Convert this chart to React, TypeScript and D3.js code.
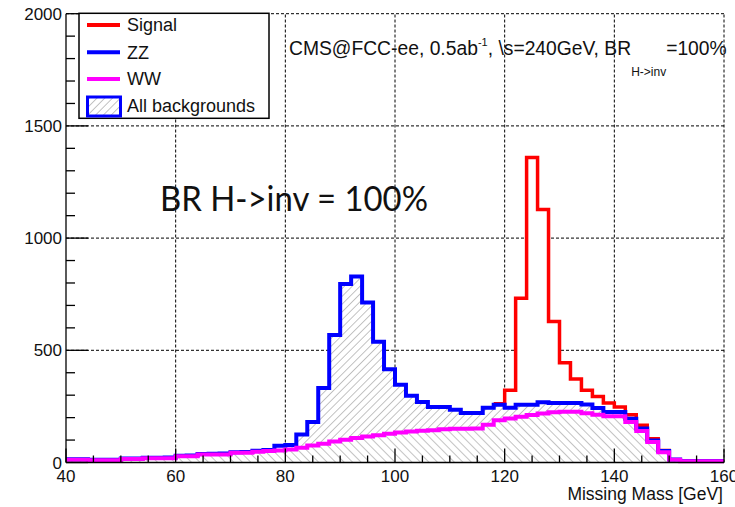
import React from "react";
import * as d3 from "d3";

// ---- data ----
// bin lower edges in GeV (2 GeV bins, 40..160)
const binStarts: number[] = d3.range(40, 160, 2);

// total background (ZZ + WW), blue outline
const allBkg: number[] = [
  15, 14, 12, 12, 12, 18, 18, 21, 21, 22,
  30, 31, 38, 39, 40, 46, 47, 52, 56, 75,
  78, 125, 180, 332, 568, 795, 829, 713, 538, 415,
  347, 298, 270, 247, 247, 235, 221, 221, 244, 257,
  244, 257, 257, 268, 265, 265, 265, 258, 243, 225,
  225, 195, 151, 98, 51, 13, 7, 7, 7, 7,
];

// WW background, magenta
const wwBkg: number[] = [
  12, 12, 10, 10, 10, 16, 16, 19, 19, 19,
  28, 28, 36, 36, 36, 43, 43, 48, 51, 54,
  58, 66, 76, 84, 94, 101, 109, 116, 121, 128,
  134, 138, 141, 144, 148, 150, 150, 151, 168, 188,
  196, 204, 212, 218, 224, 226, 226, 220, 213, 206,
  206, 180, 140, 91, 46, 12, 6, 6, 6, 6,
];

// signal stacked on backgrounds, red (bins 118..148)
const sigStarts: number[] = [118, 120, 122, 124, 126, 128, 130, 132, 134, 136, 138, 140, 142, 144, 146, 148];
const sigStacked: number[] = [262, 322, 732, 1359, 1128, 628, 445, 372, 322, 294, 265, 247, 213, 166, 106, 54];
const sigEnd = { x: 150, v: 13 };

const xTicks: number[] = [40, 60, 80, 100, 120, 140, 160];
const yTicks: number[] = [0, 500, 1000, 1500, 2000];

const legendItems = ["Signal", "ZZ", "WW", "All backgrounds"];

const W = 735;
const H = 507;

export default function App() {
  const x = d3.scaleLinear().domain([40, 160]).range([66, 724]);
  const y = d3.scaleLinear().domain([0, 2000]).range([462.5, 13.7]);

  type P = { x: number; v: number };
  const toPts = (vals: number[]): P[] => {
    const p = vals.map((v, i) => ({ x: binStarts[i], v }));
    p.push({ x: 160, v: vals[vals.length - 1] });
    return p;
  };
  const bkgPts = toPts(allBkg);
  const wwPts = toPts(wwBkg);
  const sigPts: P[] = sigStarts.map((s, i) => ({ x: s, v: sigStacked[i] }));
  sigPts.push(sigEnd);

  const line = d3
    .line<P>()
    .x((d) => x(d.x))
    .y((d) => y(d.v))
    .curve(d3.curveStepAfter);

  const areaBkg = d3
    .area<P>()
    .x((d) => x(d.x))
    .y0(y(0))
    .y1((d) => y(d.v))
    .curve(d3.curveStepAfter);

  const zzBand = d3
    .area<[P, P]>()
    .x((d) => x(d[0].x))
    .y0((d) => y(d[1].v))
    .y1((d) => y(d[0].v))
    .curve(d3.curveStepAfter);
  const pairs: [P, P][] = bkgPts.map((p, i) => [p, wwPts[i]]);

  const sigArea = d3
    .area<P>()
    .x((d) => x(d.x))
    .y0(y(0))
    .y1((d) => y(d.v))
    .curve(d3.curveStepAfter);

  const xMinor = d3.range(45, 160, 5).filter((v) => v % 20 !== 0);
  const yMinor = d3.range(100, 2000, 100).filter((v) => v % 500 !== 0);

  const font = "'Liberation Sans', Arial, sans-serif";

  return (
    <svg
      width={W}
      height={H}
      style={{ position: "absolute", left: 0, top: 0, background: "#fff" }}
      fontFamily={font}
    >
      <defs>
        <pattern id="hatchZZ" width="5.5" height="5.5" patternUnits="userSpaceOnUse" patternTransform="rotate(45)">
          <rect width="5.5" height="5.5" fill="#fff" />
          <line x1="0" y1="0" x2="0" y2="5.5" stroke="#7a7a7a" strokeWidth="0.9" />
        </pattern>
        <pattern id="hatchWW" width="6" height="6" patternUnits="userSpaceOnUse" patternTransform="rotate(-45)">
          <rect width="6" height="6" fill="#fff" />
          <line x1="0" y1="0" x2="0" y2="6" stroke="#7a7a7a" strokeWidth="0.9" />
        </pattern>
      </defs>

      {/* grid */}
      <g stroke="#000" strokeWidth={1} strokeDasharray="3,2">
        {xTicks.filter((t) => t > 40).map((t) => (
          <line key={"gx" + t} x1={x(t)} x2={x(t)} y1={y(0)} y2={y(2000)} />
        ))}
        {yTicks.filter((t) => t > 0).map((t) => (
          <line key={"gy" + t} x1={x(40)} x2={x(160)} y1={y(t)} y2={y(t)} />
        ))}
      </g>

      {/* fills */}
      <path d={sigArea(sigPts) || ""} fill="#fff" />
      <path d={areaBkg(bkgPts) || ""} fill="#fff" />
      <path d={zzBand(pairs) || ""} fill="url(#hatchZZ)" />
      <path d={areaBkg(wwPts) || ""} fill="url(#hatchWW)" />

      {/* lines */}
      <path d={line(sigPts) || ""} fill="none" stroke="#ff0000" strokeWidth={3.5} />
      <path d={line(bkgPts) || ""} fill="none" stroke="#0000ff" strokeWidth={4} />
      <path d={line(wwPts) || ""} fill="none" stroke="#ff00ff" strokeWidth={4} />

      {/* axes */}
      <g stroke="#000" strokeWidth={1.3}>
        <line x1={x(40)} x2={x(40)} y1={y(0)} y2={y(2000)} />
        <line x1={x(40)} x2={x(160)} y1={y(0)} y2={y(0)} />
        {yTicks.map((t) => (
          <line key={"ty" + t} x1={x(40)} x2={x(40) + 22} y1={y(t)} y2={y(t)} />
        ))}
        {yMinor.map((t) => (
          <line key={"tym" + t} x1={x(40)} x2={x(40) + 9} y1={y(t)} y2={y(t)} />
        ))}
        {xTicks.map((t) => (
          <line key={"tx" + t} x1={x(t)} x2={x(t)} y1={y(0)} y2={y(0) - 14} />
        ))}
        {xMinor.map((t) => (
          <line key={"txm" + t} x1={x(t)} x2={x(t)} y1={y(0)} y2={y(0) - 7} />
        ))}
      </g>

      {/* tick labels */}
      <g fontSize={17} fill="#111">
        {yTicks.map((t) => (
          <text key={"ly" + t} x={62} y={y(t)} dy="0.36em" textAnchor="end">
            {t}
          </text>
        ))}
        {xTicks.map((t) => (
          <text key={"lx" + t} x={x(t)} y={481.5} textAnchor="middle">
            {t}
          </text>
        ))}
      </g>
      <text x={723} y={500} fontSize={17.5} textAnchor="end" fill="#111">
        Missing Mass [GeV]
      </text>

      {/* legend */}
      <g>
        <rect x={79} y={13.3} width={190} height={105} fill="#fff" stroke="#000" strokeWidth={1.5} />
        <line x1={87} x2={120} y1={25} y2={25} stroke="#ff0000" strokeWidth={4} />
        <line x1={87} x2={120} y1={52.3} y2={52.3} stroke="#0000ff" strokeWidth={4} />
        <line x1={87} x2={120} y1={79} y2={79} stroke="#ff00ff" strokeWidth={4} />
        <rect x={87.5} y={97} width={33} height={19} fill="url(#hatchZZ)" stroke="#0000ff" strokeWidth={3} />
        {legendItems.map((s, i) => (
          <text key={s} x={127} y={[25, 52.3, 79, 106][i]} dy="0.36em" fontSize={18} fill="#111">
            {s}
          </text>
        ))}
      </g>

      {/* header text */}
      <text x={289} y={55} fontSize={19.3} fill="#111">
        <tspan>CMS@FCC-ee, 0.5ab</tspan>
        <tspan fontSize={11} dy={-9}>-1</tspan>
        <tspan dy={9}>, \s=240GeV, BR</tspan>
        <tspan fontSize={12} dy={21}>H-&gt;inv</tspan>
        <tspan dy={-21}>=100%</tspan>
      </text>

      {/* big label */}
      <text
        x={160}
        y={211}
        fontSize={34}
        fontFamily="Lato, 'Open Sans', sans-serif"
        fill="#111"
        textLength={268}
        lengthAdjust="spacingAndGlyphs"
      >
        BR H-&gt;inv = 100%
      </text>
    </svg>
  );
}
